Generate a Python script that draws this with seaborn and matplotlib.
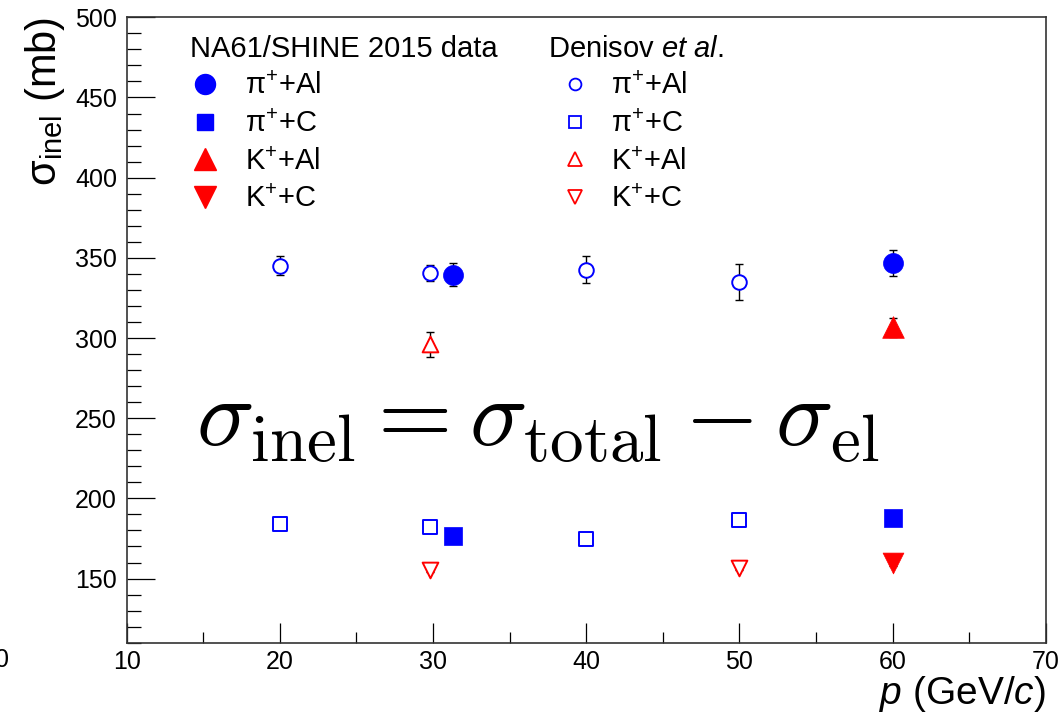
import numpy as np
import pandas as pd
import matplotlib
matplotlib.use("Agg")
import matplotlib.pyplot as plt
from matplotlib.lines import Line2D
from matplotlib.ticker import MultipleLocator
import seaborn as sns

# NA61/SHINE 2015 data
na61_pal_p = [31.3, 60.0]
na61_pal_y = [339.6, 346.9]
na61_pal_err = [7.0, 8.0]
na61_pc_p = [31.3, 60.0]
na61_pc_y = [176.7, 187.9]
na61_pc_err = [2.0, 2.0]
na61_kal_p = [60.0]
na61_kal_y = [306.7]
na61_kal_err = [6.0]
na61_kc_p = [60.0]
na61_kc_y = [159.8]
na61_kc_err = [2.0]

# Denisov et al.
den_pal_p = [20.0, 29.8, 40.0, 50.0]
den_pal_y = [345.2, 340.6, 342.7, 334.8]
den_pal_err = [6.0, 5.0, 8.2, 11.2]
den_pc_p = [20.0, 29.8, 40.0, 50.0]
den_pc_y = [184.1, 182.3, 174.8, 186.6]
den_pc_err = [1.5, 1.5, 1.5, 3.0]
den_kal_p = [29.8]
den_kal_y = [296.0]
den_kal_err = [7.6]
den_kc_p = [29.8, 50.0]
den_kc_y = [155.4, 156.7]
den_kc_err = [1.5, 1.5]

BLUE = "#0000ff"
RED = "#ff0000"

sns.set_style("ticks")
plt.rcParams["font.family"] = ["Liberation Sans", "DejaVu Sans"]
plt.rcParams["text.color"] = "black"
plt.rcParams["axes.labelcolor"] = "black"
plt.rcParams["xtick.color"] = "black"
plt.rcParams["ytick.color"] = "black"
plt.rcParams["mathtext.fontset"] = "custom"
plt.rcParams["mathtext.rm"] = "Liberation Sans"
plt.rcParams["mathtext.it"] = "Liberation Sans:italic"
plt.rcParams["mathtext.sf"] = "Liberation Sans"

fig = plt.figure(figsize=(10.59, 7.18), dpi=100)
ax = fig.add_axes([0.1196, 0.1049, 0.8679, 0.8710])

# (label, p, y, err, marker, size, face, edge)
series = [
    ("d_pal", den_pal_p, den_pal_y, den_pal_err, "o", 110, "white", BLUE),
    ("d_pc", den_pc_p, den_pc_y, den_pc_err, "s", 95, "white", BLUE),
    ("d_kal", den_kal_p, den_kal_y, den_kal_err, "^", 128, "white", RED),
    ("d_kc", den_kc_p, den_kc_y, den_kc_err, "v", 128, "white", RED),
    ("n_pal", na61_pal_p, na61_pal_y, na61_pal_err, "o", 207, BLUE, BLUE),
    ("n_pc", na61_pc_p, na61_pc_y, na61_pc_err, "s", 150, BLUE, BLUE),
    ("n_kal", na61_kal_p, na61_kal_y, na61_kal_err, "^", 243, RED, RED),
    ("n_kc", na61_kc_p, na61_kc_y, na61_kc_err, "v", 225, RED, RED),
]

for name, p, y, err, m, s, fc, ec in series:
    df = pd.DataFrame({"p": p, "sigma": y, "err": err})
    ax.errorbar(df["p"], df["sigma"], yerr=df["err"], fmt="none", ecolor="black",
                elinewidth=1.0, capsize=2.6, capthick=1.0, zorder=2)
    sns.scatterplot(data=df, x="p", y="sigma", marker=m, s=s, color=fc,
                    edgecolor=ec, linewidth=1.4 if fc == "white" else 0.5,
                    legend=False, zorder=3, ax=ax)

ax.set_xlim(10, 70)
ax.set_ylim(110, 500)
ax.xaxis.set_major_locator(MultipleLocator(10))
ax.xaxis.set_minor_locator(MultipleLocator(5))
ax.yaxis.set_major_locator(MultipleLocator(50))
ax.yaxis.set_minor_locator(MultipleLocator(10))
ax.set_yticks(np.arange(150, 501, 50))
ax.tick_params(axis="both", which="both", direction="in", color="black",
               labelcolor="black", labelsize=18, width=0.9, top=False, right=False)
ax.tick_params(axis="y", which="major", length=20, pad=7)
ax.tick_params(axis="y", which="minor", length=10)
ax.tick_params(axis="x", which="major", length=14.5, pad=5)
ax.tick_params(axis="x", which="minor", length=8)
for sp in ax.spines.values():
    sp.set_visible(True)
    sp.set_linewidth(1.2)
    sp.set_color("#333333")

ax.set_xlabel(r"$p$ (GeV/$c$)", fontsize=28, loc="right", labelpad=0)
ax.set_ylabel(r"σ$_{\rm inel}$ (mb)", fontsize=30, loc="top", labelpad=6)

# stray "0" tick label cut by the left border of the image
fig.text(0.0015, 0.081, "0", fontsize=18, ha="center", va="center")

# legends
h_na61 = [
    Line2D([], [], ls="none", marker="o", ms=14.4, mfc=BLUE, mec=BLUE),
    Line2D([], [], ls="none", marker="s", ms=12.2, mfc=BLUE, mec=BLUE),
    Line2D([], [], ls="none", marker="^", ms=15.6, mfc=RED, mec=RED),
    Line2D([], [], ls="none", marker="v", ms=15.6, mfc=RED, mec=RED),
]
h_den = [
    Line2D([], [], ls="none", marker="o", ms=8.5, mfc="white", mec=BLUE, mew=1.3),
    Line2D([], [], ls="none", marker="s", ms=8.5, mfc="white", mec=BLUE, mew=1.3),
    Line2D([], [], ls="none", marker="^", ms=10, mfc="white", mec=RED, mew=1.3),
    Line2D([], [], ls="none", marker="v", ms=10, mfc="white", mec=RED, mew=1.3),
]
labels = ["π$^{+}$+Al", "π$^{+}$+C", "K$^{+}$+Al", "K$^{+}$+C"]

leg1 = ax.legend(h_na61, labels, title="NA61/SHINE 2015 data", loc="upper left",
                 bbox_to_anchor=(0.069, 0.972), frameon=False, fontsize=21,
                 title_fontsize=21, alignment="left", handlelength=1.03,
                 handletextpad=0.86, labelspacing=0.33, borderpad=0,
                 borderaxespad=0)
ax.add_artist(leg1)
ax.legend(h_den, labels, title=r"Denisov $\it{et\ al}$.", loc="upper left",
          bbox_to_anchor=(0.458, 0.972), frameon=False, fontsize=21,
          title_fontsize=21, alignment="left", handlelength=1.85,
          handletextpad=0.34, labelspacing=0.33, borderpad=0, borderaxespad=0)

ax.text(0.447, 0.355, r"$\sigma_{\rm inel} = \sigma_{\rm total} - \sigma_{\rm el}$",
        transform=ax.transAxes, ha="center", va="center", fontsize=69,
        math_fontfamily="cm")

fig.savefig("out.png", dpi=100)
